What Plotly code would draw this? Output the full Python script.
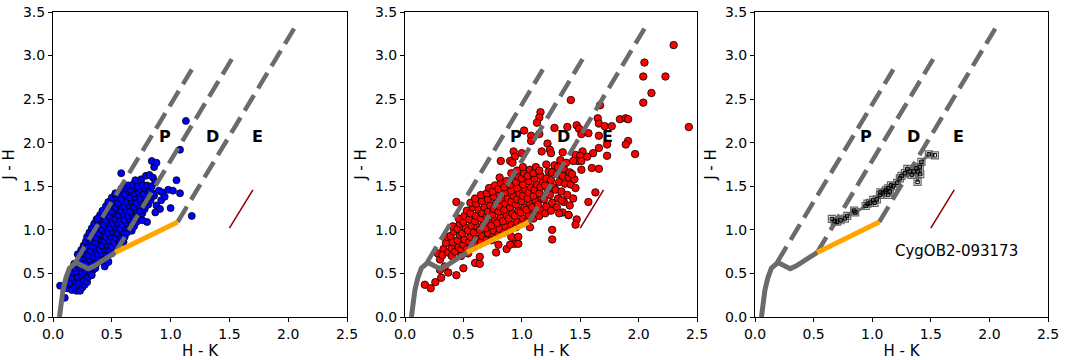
import plotly.graph_objects as go

# ---------------- data ----------------
# intrinsic dwarf/giant locus (H-K, J-H)
locus_hk = [0.055, 0.065, 0.085, 0.11, 0.14, 0.195, 0.25, 0.30, 0.35, 0.41, 0.47, 0.53]
locus_jh = [0.0, 0.12, 0.31, 0.45, 0.56, 0.625, 0.58, 0.555, 0.585, 0.635, 0.685, 0.74]
# CTTS locus
ctts_hk = [0.53, 1.06]
ctts_jh = [0.74, 1.09]
# reddening band boundaries (start, end)
band_hk = [[0.19, 1.18], [0.53, 1.52], [1.06, 2.05]]
band_jh = [[0.63, 2.84], [0.74, 2.96], [1.09, 3.31]]
# reddening vector
vec_hk = [1.50, 1.70]
vec_jh = [1.02, 1.46]
# region labels
lab_text = ["P", "D", "E"]
lab_hk = [0.95, 1.355, 1.735]
lab_jh = [2.07, 2.07, 2.07]

# panel 1: blue sample
blue_pts = [
    (0.06,0.36),(0.10,0.22),(0.12,0.33),(0.16,0.31),(0.20,0.30),(0.23,0.30),(0.18,0.35),(0.25,0.34),
    (0.27,0.37),(0.14,0.39),(0.19,0.41),(0.22,0.39),(0.26,0.42),(0.29,0.40),(0.16,0.45),(0.21,0.46),
    (0.24,0.48),(0.30,0.46),(0.17,0.51),(0.20,0.52),(0.25,0.51),(0.28,0.53),(0.32,0.50),(0.34,0.54),
    (0.19,0.56),(0.23,0.57),(0.27,0.58),(0.36,0.56),(0.18,0.61),(0.22,0.63),(0.26,0.61),(0.29,0.62),
    (0.33,0.63),(0.37,0.61),(0.41,0.64),(0.23,0.67),(0.27,0.68),(0.31,0.66),(0.35,0.69),(0.39,0.67),
    (0.43,0.68),(0.47,0.64),(0.21,0.72),(0.26,0.73),(0.30,0.71),(0.34,0.74),(0.38,0.72),(0.42,0.73),
    (0.46,0.71),(0.50,0.73),(0.24,0.77),(0.28,0.78),(0.32,0.76),(0.36,0.79),(0.40,0.77),(0.44,0.78),
    (0.48,0.76),(0.52,0.78),(0.26,0.82),(0.30,0.83),(0.34,0.81),(0.38,0.84),(0.42,0.82),(0.46,0.83),
    (0.50,0.81),(0.54,0.83),(0.28,0.87),(0.32,0.88),(0.36,0.86),(0.40,0.89),(0.44,0.87),(0.48,0.88),
    (0.52,0.86),(0.56,0.88),(0.60,0.86),(0.29,0.92),(0.33,0.93),(0.37,0.91),(0.41,0.94),(0.45,0.92),
    (0.49,0.93),(0.53,0.91),(0.57,0.93),(0.61,0.92),(0.31,0.97),(0.35,0.98),(0.39,0.96),(0.43,0.99),
    (0.47,0.97),(0.51,0.98),(0.55,0.96),(0.59,0.98),(0.63,0.97),(0.67,0.99),(0.33,1.02),(0.37,1.03),
    (0.41,1.01),(0.45,1.04),(0.49,1.02),(0.53,1.03),(0.57,1.01),(0.61,1.03),(0.65,1.02),(0.69,1.04),
    (0.35,1.07),(0.39,1.08),(0.43,1.06),(0.47,1.09),(0.51,1.07),(0.55,1.08),(0.59,1.06),(0.63,1.08),
    (0.67,1.07),(0.71,1.09),(0.37,1.12),(0.41,1.13),(0.45,1.11),(0.49,1.14),(0.53,1.12),(0.57,1.13),
    (0.61,1.11),(0.65,1.13),(0.69,1.12),(0.73,1.14),(0.40,1.17),(0.44,1.18),(0.48,1.16),(0.52,1.19),
    (0.56,1.17),(0.60,1.18),(0.64,1.16),(0.68,1.18),(0.72,1.17),(0.76,1.19),(0.42,1.22),(0.46,1.23),
    (0.50,1.21),(0.54,1.24),(0.58,1.22),(0.62,1.23),(0.66,1.21),(0.70,1.23),(0.74,1.22),(0.78,1.24),
    (0.45,1.27),(0.49,1.28),(0.53,1.26),(0.57,1.29),(0.61,1.27),(0.65,1.28),(0.69,1.26),(0.73,1.28),
    (0.77,1.27),(0.81,1.29),(0.47,1.32),(0.51,1.33),(0.55,1.31),(0.59,1.34),(0.63,1.32),(0.67,1.33),
    (0.71,1.31),(0.75,1.33),(0.79,1.32),(0.83,1.34),(0.50,1.37),(0.54,1.38),(0.58,1.36),(0.62,1.39),
    (0.66,1.37),(0.70,1.38),(0.74,1.36),(0.78,1.38),(0.82,1.37),(0.86,1.39),(0.53,1.42),(0.57,1.43),
    (0.61,1.41),(0.65,1.44),(0.69,1.42),(0.73,1.43),(0.77,1.41),(0.81,1.43),(0.85,1.42),(0.58,1.47),
    (0.62,1.48),(0.66,1.46),(0.70,1.49),(0.74,1.47),(0.78,1.48),(0.82,1.46),(0.64,1.51),(0.68,1.52),
    (0.72,1.50),(0.76,1.52),(0.80,1.51),(0.84,1.50),(0.58,1.65),(0.70,1.57),(0.75,1.58),(0.79,1.62),
    (0.82,1.63),(0.85,1.60),(0.86,1.72),(0.84,1.79),(0.88,1.77),(0.87,1.55),(0.90,1.45),(0.93,1.43),
    (0.98,1.46),(1.02,1.45),(1.05,1.57),(1.08,1.42),(1.00,1.25),(1.18,1.16),(1.08,1.92),(1.13,2.25),
    (0.92,1.34),(0.88,1.28),(0.91,1.24),(0.87,1.20),(0.80,1.09),(0.76,1.11),(0.95,1.38),(0.38,1.13),
    (0.33,0.48),(0.44,0.58),(0.47,0.63),
]
blue_hk = [p[0] for p in blue_pts]
blue_jh = [p[1] for p in blue_pts]

# panel 2: red sample
red_pts = [
    (0.28,0.73),(0.30,0.66),(0.33,0.78),(0.35,0.85),(0.36,0.92),(0.32,0.71),(0.37,0.74),(0.40,0.70),
    (0.40,0.79),(0.41,0.86),(0.39,0.93),(0.42,0.98),(0.41,1.04),(0.43,0.75),(0.44,1.32),
    (0.46,0.80),(0.45,0.88),(0.47,0.94),(0.45,1.01),(0.47,1.07),(0.46,1.13),(0.48,0.77),
    (0.50,0.83),(0.51,0.89),(0.49,0.96),(0.52,1.02),(0.50,1.09),(0.51,1.16),(0.53,1.22),(0.53,0.78),
    (0.55,0.86),(0.56,0.92),(0.54,0.99),(0.57,1.05),(0.55,1.12),(0.56,1.19),(0.58,1.26),(0.57,0.80),(0.56,1.31),
    (0.60,0.84),(0.61,0.90),(0.59,0.97),(0.62,1.03),(0.60,1.10),(0.61,1.16),(0.63,1.23),(0.61,1.30),(0.60,1.36),
    (0.65,0.86),(0.66,0.93),(0.64,1.00),(0.67,1.06),(0.65,1.13),(0.66,1.19),(0.68,1.26),(0.66,1.33),(0.65,1.40),
    (0.70,0.89),(0.71,0.96),(0.69,1.02),(0.72,1.08),(0.70,1.15),(0.71,1.21),(0.73,1.28),(0.71,1.35),(0.70,1.42),(0.72,1.48),
    (0.75,0.92),(0.76,0.99),(0.74,1.05),(0.77,1.11),(0.75,1.18),(0.76,1.24),(0.78,1.31),(0.76,1.38),(0.75,1.44),(0.77,1.51),
    (0.80,0.95),(0.81,1.01),(0.79,1.08),(0.82,1.14),(0.80,1.21),(0.81,1.27),(0.83,1.34),(0.81,1.41),(0.80,1.47),(0.82,1.54),(0.81,1.60),
    (0.85,0.97),(0.86,1.04),(0.84,1.10),(0.87,1.17),(0.85,1.23),(0.86,1.30),(0.88,1.36),(0.86,1.43),(0.85,1.49),(0.87,1.56),
    (0.90,1.00),(0.91,1.06),(0.89,1.13),(0.92,1.19),(0.90,1.26),(0.91,1.32),(0.93,1.39),(0.91,1.45),(0.90,1.52),(0.92,1.58),(0.91,1.65),
    (0.95,1.03),(0.96,1.09),(0.94,1.16),(0.97,1.22),(0.95,1.29),(0.96,1.35),(0.98,1.42),(0.96,1.48),(0.95,1.55),(0.97,1.61),(0.96,1.68),
    (1.00,1.07),(1.01,1.13),(0.99,1.20),(1.02,1.26),(1.00,1.33),(1.01,1.39),(1.03,1.46),(1.01,1.52),(1.00,1.59),(1.02,1.65),(1.01,1.72),
    (1.05,1.10),(1.06,1.17),(1.04,1.23),(1.07,1.30),(1.05,1.36),(1.06,1.43),(1.08,1.49),(1.06,1.56),(1.05,1.62),(1.07,1.69),
    (1.10,1.13),(1.11,1.20),(1.09,1.26),(1.12,1.33),(1.10,1.39),(1.11,1.46),(1.13,1.52),(1.11,1.59),(1.10,1.65),(1.12,1.72),
    (1.15,1.16),(1.16,1.23),(1.14,1.29),(1.17,1.36),(1.15,1.42),(1.16,1.49),(1.18,1.55),(1.16,1.62),(1.15,1.68),
    (1.20,1.19),(1.21,1.27),(1.19,1.35),(1.22,1.43),(1.20,1.51),(1.21,1.59),(1.23,1.67),(1.21,1.75),
    (1.25,1.22),(1.26,1.31),(1.24,1.40),(1.27,1.49),(1.25,1.57),(1.26,1.66),(1.28,1.74),
    (1.30,1.26),(1.31,1.36),(1.29,1.46),(1.32,1.55),(1.30,1.64),(1.31,1.72),(1.33,1.80),
    (1.35,1.20),(1.36,1.32),(1.34,1.44),(1.37,1.53),(1.35,1.62),(1.36,1.70),(1.38,1.77),
    (1.40,1.17),(1.41,1.28),(1.39,1.40),(1.42,1.52),(1.40,1.60),(1.41,1.66),
    (1.44,1.36),(1.46,1.48),(1.45,1.58),(1.43,1.64),
    (0.17,0.37),(0.22,0.33),(0.26,0.40),(0.31,0.45),(0.37,0.51),(0.44,0.48),(0.50,0.56),(0.30,0.54),
    (0.34,0.58),(0.60,0.62),(0.64,0.61),(0.64,0.69),(0.78,0.74),(0.87,0.78),(0.94,0.84),(0.97,0.84),
    (1.07,1.03),(1.26,1.00),(1.26,0.89),(0.80,0.83),(0.90,0.83),(0.91,0.92),(0.97,0.92),(0.74,0.88),
    (0.54,0.73),(0.48,0.70),(1.34,1.34),(1.47,1.12),(1.46,1.06),(1.40,1.17),(1.32,1.19),
    (1.16,2.35),(1.15,2.29),(1.13,2.23),(1.02,2.14),(1.08,2.08),(1.08,2.02),(1.15,2.10),(1.22,1.99),
    (1.17,1.90),(1.24,1.92),(1.25,1.88),(0.93,1.90),(0.94,1.84),(1.00,1.88),(0.82,1.79),(0.90,1.79),
    (0.92,1.77),(1.35,1.89),(1.28,2.17),
    (2.30,3.12),(2.05,2.92),(2.04,2.76),(2.23,2.76),(2.11,2.57),(2.04,2.46),(2.43,2.18),(1.42,2.49),
    (1.67,2.43),(1.65,2.28),(1.66,2.22),(1.84,2.27),(1.89,2.28),(1.91,2.27),(1.39,2.18),(1.47,2.20),
    (1.49,2.16),(1.51,2.10),(1.57,2.11),(1.66,2.08),(1.71,2.19),(1.77,2.19),(1.91,2.02),(1.89,1.98),
    (1.73,1.98),(1.66,1.94),(1.61,1.88),(1.73,1.85),(1.97,1.87),(1.52,1.90),(1.46,1.86),(1.50,1.85),
    (1.56,1.84),(1.48,1.79),(1.51,1.79),(1.44,1.79),(1.60,1.71),(1.66,1.70),(1.51,1.69),(1.63,1.43),
    (1.57,1.32),
]
red_hk = [p[0] for p in red_pts]
red_jh = [p[1] for p in red_pts]

# panel 3: CygOB2-093173 epochs
star_hk = [0.656,0.680,0.700,0.730,0.767,0.787,0.846,0.855,0.944,0.960,0.980,1.009,1.020,1.040,1.066,
           1.070,1.090,1.110,1.120,1.137,1.137,1.150,1.160,1.180,1.213,1.236,1.250,1.279,1.300,1.320,
           1.338,1.355,1.378,1.387,1.390,1.406,1.410,1.420,1.483,1.535]
star_jh = [1.125,1.100,1.094,1.110,1.130,1.160,1.220,1.200,1.274,1.300,1.310,1.343,1.310,1.350,1.400,
           1.430,1.420,1.440,1.460,1.477,1.400,1.440,1.510,1.500,1.540,1.590,1.620,1.650,1.700,1.670,
           1.630,1.670,1.706,1.550,1.670,1.720,1.640,1.780,1.867,1.855]
star_name = "CygOB2-093173"
star_label_hk = 1.72
star_label_jh = 0.76

# ---------------- figure ----------------
FONT = "DejaVu Sans"
GRAY = "#6b6b6b"
W, H = 1080, 360
fig = go.Figure()

domains = [(53 / W, 347 / W), (405 / W, 697 / W), (755 / W, 1048 / W)]
suffixes = ["", "2", "3"]


def add_frame(sfx):
    xa, ya = "x" + sfx, "y" + sfx
    fig.add_trace(go.Scatter(x=locus_hk, y=locus_jh, mode="lines", xaxis=xa, yaxis=ya,
                             line=dict(color=GRAY, width=5), hoverinfo="skip"))
    for bx, by in zip(band_hk, band_jh):
        fig.add_trace(go.Scatter(x=bx, y=by, mode="lines", xaxis=xa, yaxis=ya,
                                 line=dict(color=GRAY, width=4.5, dash="18px,8px"), hoverinfo="skip"))
    fig.add_trace(go.Scatter(x=ctts_hk, y=ctts_jh, mode="lines", xaxis=xa, yaxis=ya,
                             line=dict(color="orange", width=5), hoverinfo="skip"))
    fig.add_trace(go.Scatter(x=vec_hk, y=vec_jh, mode="lines", xaxis=xa, yaxis=ya,
                             line=dict(color="darkred", width=1.5), hoverinfo="skip"))
    for t, lx, ly in zip(lab_text, lab_hk, lab_jh):
        fig.add_annotation(x=lx, y=ly, xref=xa, yref=ya, text="<b>%s</b>" % t, showarrow=False,
                           font=dict(family=FONT, size=16, color="black"))


# panel 1
fig.add_trace(go.Scatter(x=blue_hk, y=blue_jh, mode="markers", xaxis="x", yaxis="y",
                         marker=dict(color="blue", size=7, line=dict(color="black", width=0.8))))
add_frame("")
# panel 2
fig.add_trace(go.Scatter(x=red_hk, y=red_jh, mode="markers", xaxis="x2", yaxis="y2",
                         marker=dict(color="red", size=7.5, line=dict(color="black", width=0.8))))
add_frame("2")
# panel 3
add_frame("3")
order = sorted(range(len(star_hk)), key=lambda i: star_hk[i])
fig.add_trace(go.Scatter(x=[star_hk[i] for i in order], y=[star_jh[i] for i in order], mode="lines",
                         xaxis="x3", yaxis="y3", line=dict(color="#707070", width=3), hoverinfo="skip"))
fig.add_trace(go.Scatter(x=star_hk, y=star_jh, mode="markers", xaxis="x3", yaxis="y3",
                         marker=dict(symbol="square-open", color="#666666", size=7, line=dict(width=1.2))))
fig.add_trace(go.Scatter(x=star_hk, y=star_jh, mode="markers", xaxis="x3", yaxis="y3",
                         marker=dict(symbol="square-open", color="black", size=3.5, line=dict(width=1))))
fig.add_annotation(x=star_label_hk, y=star_label_jh, xref="x3", yref="y3", text=star_name,
                   showarrow=False, font=dict(family=FONT, size=15, color="black"))

xt = [0, 0.5, 1.0, 1.5, 2.0, 2.5]
yt = [0, 0.5, 1.0, 1.5, 2.0, 2.5, 3.0, 3.5]
layout = dict(width=W, height=H, margin=dict(l=0, r=0, t=12, b=43),
              plot_bgcolor="white", paper_bgcolor="white", showlegend=False,
              font=dict(family=FONT, color="black"))
for sfx, dom in zip(suffixes, domains):
    layout["xaxis" + sfx] = dict(domain=list(dom), range=[0, 2.5], tickvals=xt,
                                 ticktext=["%.1f" % v for v in xt], anchor="y" + sfx,
                                 showline=True, mirror=True, linecolor="black", linewidth=1,
                                 ticks="outside", ticklen=4, tickcolor="black", showgrid=False,
                                 zeroline=False, tickfont=dict(family=FONT, size=14),
                                 ticklabeloverflow="allow",
                                 title=dict(text="H - K", font=dict(family=FONT, size=15), standoff=4),
                                 automargin=False)
    layout["yaxis" + sfx] = dict(domain=[0, 1], range=[0, 3.5], tickvals=yt,
                                 ticktext=["%.1f" % v for v in yt], anchor="x" + sfx,
                                 showline=True, mirror=True, linecolor="black", linewidth=1,
                                 ticks="outside", ticklen=4, tickcolor="black", showgrid=False,
                                 zeroline=False, tickfont=dict(family=FONT, size=14),
                                 ticklabeloverflow="allow",
                                 title=dict(text="J - H", font=dict(family=FONT, size=15), standoff=4),
                                 automargin=False)
fig.update_layout(**layout)
# remove the default 8px page margin so the 1080x360 figure fills the window exactly
fig.write_html("out.html", config={"displayModeBar": False},
               post_script="document.body.style.margin='0px';")
